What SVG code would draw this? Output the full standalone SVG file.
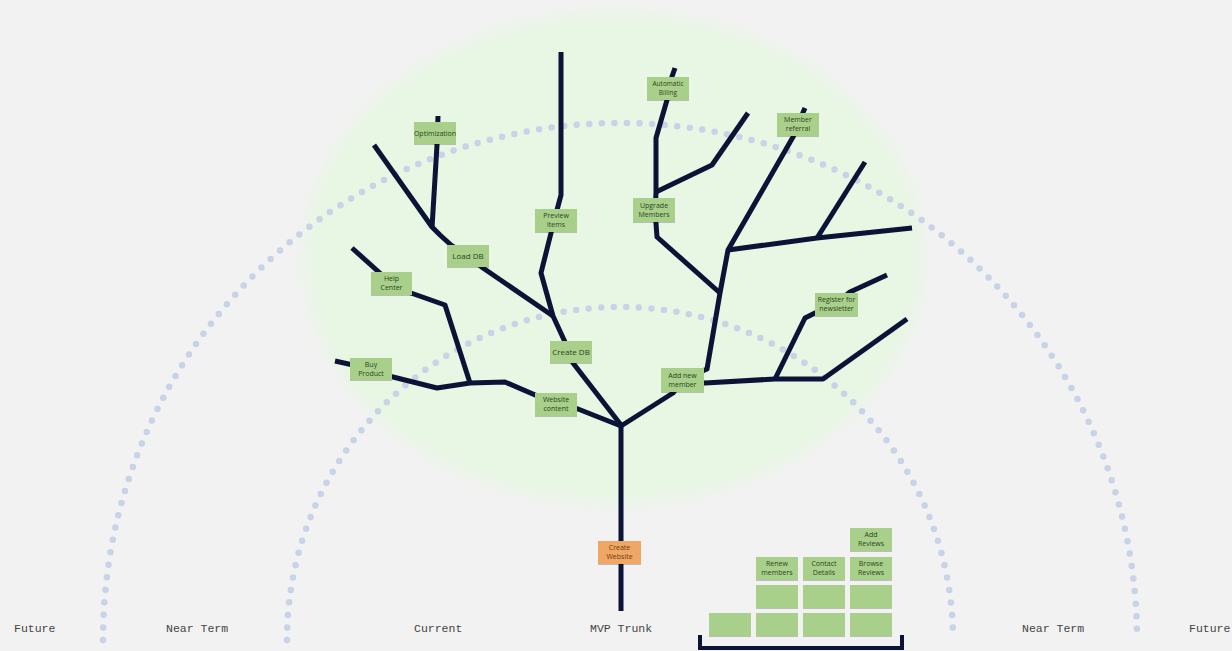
<svg xmlns="http://www.w3.org/2000/svg" width="1232" height="651" viewBox="0 0 1232 651">
  <defs>
    <filter id="glow" x="-10%" y="-10%" width="120%" height="120%">
      <feGaussianBlur stdDeviation="7"/>
    </filter>
    <filter id="shadow" x="-20%" y="-20%" width="140%" height="150%">
      <feDropShadow dx="0" dy="1" stdDeviation="0.7" flood-color="#000" flood-opacity="0.22"/>
    </filter>
    <style>
      .arc { fill: none; stroke: #c8d3e7; stroke-width: 6.5; stroke-linecap: round; stroke-dasharray: 0 12.6; }
      .branch { fill: none; stroke: #0b1436; stroke-width: 5; stroke-linejoin: round; stroke-linecap: butt; }
      .note { fill: #a9d08b; filter: url(#shadow); }
      .note-mvp { fill: #f0a766; filter: url(#shadow); }
      .nt { font-family: "Open Sans", "Liberation Sans", sans-serif; font-size: 7px; fill: #2e431b; text-anchor: middle; }
      .nt-mvp { font-family: "Open Sans", "Liberation Sans", sans-serif; font-size: 7px; fill: #6b3a12; text-anchor: middle; }
      .zone { font-family: "Liberation Mono", "DejaVu Sans Mono", monospace; font-size: 11.5px; fill: #444; }
    </style>
  </defs>

  <!-- page background -->
  <rect width="1232" height="651" fill="#f2f2f2"/>

  <!-- canopy glow -->
  <ellipse cx="614" cy="258" rx="310" ry="246" fill="#e8f6e4" filter="url(#glow)"/>

  <!-- horizon arcs -->
  <g id="horizons">
    <path class="arc" d="M103 640 A517 517 0 0 1 1137 640"/>
    <path class="arc" d="M287 640 A333 333 0 0 1 953 640"/>
  </g>

  <!-- branches -->
  <g id="connectors">
    <path class="branch" d="M621 611 L621 425"/>
    <path class="branch" d="M621 425 L573 363 L565 342 L553 316 L541 273 L551 233 L557 210 L561 195 L561 52"/>
    <path class="branch" d="M553 316 L483 268 L468 256 L451 245 L440 235 L432 227 L374 145"/>
    <path class="branch" d="M432 228 L437 145 L438 116"/>
    <path class="branch" d="M352 248 L391 283 L411 293 L445 305 L470 383"/>
    <path class="branch" d="M335 361 L371 369 L393 377 L437 388 L470 383 L505 382 L556 404 L578 409 L621 426"/>
    <path class="branch" d="M621 426 L673 393 L682 380 L707 369 L720 293 L728 250 L793 137 L798 124 L805 108"/>
    <path class="branch" d="M728 250 L817 238 L912 228"/>
    <path class="branch" d="M817 238 L865 162"/>
    <path class="branch" d="M720 293 L657 237 L655 210 L656 193 L656 138 L667 100 L668 88 L675 68"/>
    <path class="branch" d="M656 192 L712 165 L748 113"/>
    <path class="branch" d="M682 380 L705 383 L775 379 L823 379 L907 319"/>
    <path class="branch" d="M775 379 L805 318 L815 313 L836 304 L850 292 L887 275"/>
  </g>

  <!-- feature notes on the tree -->
  <g id="optimization">
    <rect class="note" x="414" y="122" width="42" height="22"/>
    <text class="nt" x="435" y="135.5" style="font-size:7px">Optimization</text>
  </g>
  <g id="load-db">
    <rect class="note" x="447" y="245" width="42" height="22"/>
    <text class="nt" x="468" y="258.5" style="font-size:8px">Load DB</text>
  </g>
  <g id="help-center">
    <rect class="note" x="371" y="272" width="41" height="23"/>
    <text class="nt" x="391.5" y="281">Help</text>
    <text class="nt" x="391.5" y="290">Center</text>
  </g>
  <g id="buy-product">
    <rect class="note" x="350" y="358" width="42" height="22"/>
    <text class="nt" x="371" y="366.5">Buy</text>
    <text class="nt" x="371" y="375.5">Product</text>
  </g>
  <g id="preview-items">
    <rect class="note" x="535" y="209" width="42" height="23"/>
    <text class="nt" x="556" y="218">Preview</text>
    <text class="nt" x="556" y="227">items</text>
  </g>
  <g id="create-db">
    <rect class="note" x="550" y="341" width="42" height="22"/>
    <text class="nt" x="571" y="354.5" style="font-size:8px">Create DB</text>
  </g>
  <g id="website-content">
    <rect class="note" x="535" y="393" width="42" height="23"/>
    <text class="nt" x="556" y="402">Website</text>
    <text class="nt" x="556" y="411">content</text>
  </g>
  <g id="automatic-billing">
    <rect class="note" x="647" y="77" width="42" height="23"/>
    <text class="nt" x="668" y="86" style="font-size:6.5px">Automatic</text>
    <text class="nt" x="668" y="95" style="font-size:6.5px">Billing</text>
  </g>
  <g id="upgrade-members">
    <rect class="note" x="633" y="198" width="42" height="24"/>
    <text class="nt" x="654" y="207.5">Upgrade</text>
    <text class="nt" x="654" y="216.5">Members</text>
  </g>
  <g id="member-referral">
    <rect class="note" x="777" y="113" width="42" height="23"/>
    <text class="nt" x="798" y="122">Member</text>
    <text class="nt" x="798" y="131">referral</text>
  </g>
  <g id="register-newsletter">
    <rect class="note" x="815" y="293" width="43" height="23"/>
    <text class="nt" x="836.5" y="302">Register for</text>
    <text class="nt" x="836.5" y="311">newsletter</text>
  </g>
  <g id="add-new-member">
    <rect class="note" x="661" y="368" width="43" height="24"/>
    <text class="nt" x="682.5" y="377.5">Add new</text>
    <text class="nt" x="682.5" y="386.5">member</text>
  </g>
  <g id="create-website">
    <rect class="note-mvp" x="598" y="541" width="43" height="23"/>
    <text class="nt-mvp" x="619.5" y="550">Create</text>
    <text class="nt-mvp" x="619.5" y="559">Website</text>
  </g>

  <!-- backlog stack -->
  <g id="add-reviews">
    <rect class="note" x="850" y="528" width="42" height="23"/>
    <text class="nt" x="871" y="537">Add</text>
    <text class="nt" x="871" y="546">Reviews</text>
  </g>
  <g id="renew-members">
    <rect class="note" x="756" y="557" width="42" height="23"/>
    <text class="nt" x="777" y="566">Renew</text>
    <text class="nt" x="777" y="575">members</text>
  </g>
  <g id="contact-details">
    <rect class="note" x="803" y="557" width="42" height="23"/>
    <text class="nt" x="824" y="566">Contact</text>
    <text class="nt" x="824" y="575">Details</text>
  </g>
  <g id="browse-reviews">
    <rect class="note" x="850" y="557" width="42" height="23"/>
    <text class="nt" x="871" y="566">Browse</text>
    <text class="nt" x="871" y="575">Reviews</text>
  </g>
  <g id="backlog-blank">
    <rect class="note" x="756" y="585" width="42" height="23"/>
    <rect class="note" x="803" y="585" width="42" height="23"/>
    <rect class="note" x="850" y="585" width="42" height="23"/>
    <rect class="note" x="709" y="613" width="42" height="23"/>
    <rect class="note" x="756" y="613" width="42" height="23"/>
    <rect class="note" x="803" y="613" width="42" height="23"/>
    <rect class="note" x="850" y="613" width="42" height="23"/>
  </g>
  <g id="backlog-bracket">
    <path d="M700 635 L700 648 L902 648 L902 635" fill="none" stroke="#0b1436" stroke-width="4"/>
  </g>

  <!-- zone labels -->
  <g id="zone-labels">
    <text class="zone" x="14" y="632">Future</text>
    <text class="zone" x="166" y="632">Near Term</text>
    <text class="zone" x="414" y="632">Current</text>
    <text class="zone" x="590" y="632">MVP Trunk</text>
    <text class="zone" x="1022" y="632">Near Term</text>
    <text class="zone" x="1189" y="632">Future</text>
  </g>
</svg>
